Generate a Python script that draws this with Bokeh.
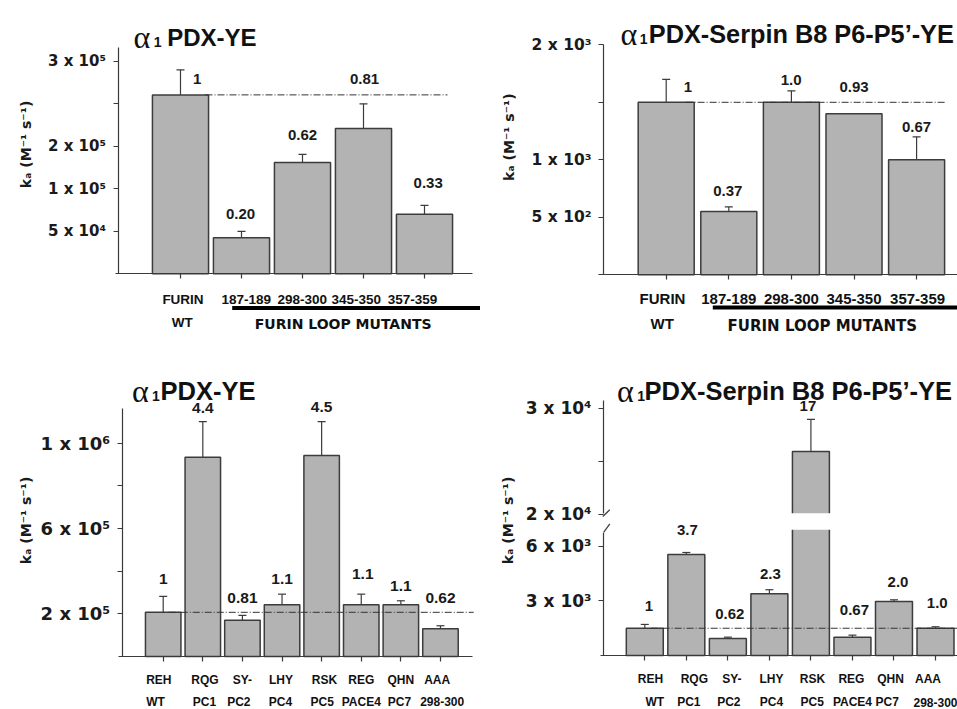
import math
from bokeh.plotting import figure
from bokeh.layouts import gridplot
from bokeh.models import Range1d, FixedTicker, CustomJSTickFormatter, LinearAxis
from bokeh.core.properties import value
from bokeh.embed import file_html
from bokeh.resources import INLINE

# ---------------- data ----------------
# top row: furin loop mutants
top_categories = ["FURIN", "187-189", "298-300", "345-350", "357-359"]
top_sublabels = ["WT", "", "", "", ""]
top_group_label = "FURIN  LOOP  MUTANTS"

tl_title = "PDX-YE"
tl_ka = [2.605e5, 4.25e4, 1.62e5, 2.21e5, 7.0e4]
tl_err = [2.90e5, 5.0e4, 1.81e5, 2.50e5, 8.05e4]
tl_fold = ["1", "0.20", "0.62", "0.81", "0.33"]
tl_ticks = [5e4, 1e5, 2e5, 3e5]
tl_tick_labels = ["5 x 10⁴", "1 x 10⁵", "2 x 10⁵", "3 x 10⁵"]
tl_minor_ticks = [2.5e5]

tr_title = "PDX-Serpin B8 P6-P5’-YE"
tr_ka = [1500, 550, 1500, 1400, 1000]
tr_err = [1700, 590, 1600, None, 1200]
tr_fold = ["1", "0.37", "1.0", "0.93", "0.67"]
tr_ticks = [500, 1000, 2000]
tr_tick_labels = ["5 x 10²", "1 x 10³", "2 x 10³"]
tr_minor_ticks = [1500]

# bottom row: proprotein convertase cleavage-site mutants
bot_categories = ["REH", "RQG", "SY-", "LHY", "RSK", "REG", "QHN", "AAA"]
bot_sublabels = ["WT", "PC1", "PC2", "PC4", "PC5", "PACE4", "PC7", "298-300"]

bl_title = "PDX-YE"
bl_ka = [2.07e5, 9.33e5, 1.70e5, 2.42e5, 9.41e5, 2.42e5, 2.42e5, 1.30e5]
bl_err = [2.82e5, 1.10e6, 1.93e5, 2.92e5, 1.10e6, 2.92e5, 2.61e5, 1.44e5]
bl_fold = ["1", "4.4", "0.81", "1.1", "4.5", "1.1", "1.1", "0.62"]
bl_ticks = [2e5, 6e5, 1e6]
bl_tick_labels = ["2 x 10⁵", "6 x 10⁵", "1 x 10⁶"]
bl_minor_ticks = [4e5, 8e5]

br_title = "PDX-Serpin B8 P6-P5’-YE"
br_ka = [1500, 5560, 936, 3400, 25920, 1010, 2970, 1500]
br_err = [1710, 5670, 1010, 3620, 28940, 1120, 3065, 1580]
br_fold = ["1", "3.7", "0.62", "2.3", "17", "0.67", "2.0", "1.0"]
br_ticks_low = [3000, 6000]
br_tick_labels_low = ["3 x 10³", "6 x 10³"]
br_ticks_high = [20000, 30000]
br_tick_labels_high = ["2 x 10⁴", "3 x 10⁴"]
br_minor_ticks_high = [25000]

Y_LABEL = "kₐ (M⁻¹ s⁻¹)"


# ---------------- broken-axis transforms used by the original figure ----------------
def f_tl(v):
    if v <= 1e5:
        return v / 5e4
    if v <= 2e5:
        return 2 + (v - 1e5) / 1e5
    return 3 + (v - 2e5) / 5e4


def f_br(v):
    if v <= 7000:
        return v / 1000
    return 7.777 + (v - 2e4) * 0.5833 / 1000


def ident(v):
    return v


# ---------------- styling ----------------
BAR_FILL = "#b3b3b3"
BAR_LINE = "#3c3c3c"
AX = "#3a3a3a"
SANS = "Liberation Sans"
WIDE = "DejaVu Sans"
SERIF = "Liberation Serif"


def panel(W, H, ox, oy, cat0_ref, cdx, base_ref, ppu):
    cat0 = cat0_ref - ox
    base = base_ref - oy
    p = figure(width=W, height=H,
               x_range=Range1d(-cat0 / cdx, (W - cat0) / cdx),
               y_range=Range1d((base - H) / ppu, base / ppu),
               output_backend="svg", toolbar_location=None,
               min_border_left=0, min_border_right=0,
               min_border_top=0, min_border_bottom=0)
    p.outline_line_color = None
    p.xgrid.visible = False
    p.ygrid.visible = False
    p.background_fill_color = "white"
    p.border_fill_color = "white"

    def X(rx):
        return (rx - ox - cat0) / cdx

    def Y(ry):
        return (base - (ry - oy)) / ppu

    return p, X, Y


def tick_formatter(pos, labels):
    return CustomJSTickFormatter(args=dict(pos=pos, labels=labels), code="""
        let best = 0, bd = Infinity;
        for (let i = 0; i < pos.length; i++) {
            const d = Math.abs(pos[i] - tick);
            if (d < bd) { bd = d; best = i; }
        }
        return labels[best];
    """)


def style_axis(ax, loc, bounds, ticks, labels=None, minor=(), fsize="15px", standoff=7):
    ax.fixed_location = loc
    ax.bounds = bounds
    ax.ticker = FixedTicker(ticks=list(ticks), minor_ticks=list(minor))
    ax.axis_line_color = AX
    ax.axis_line_width = 1.2
    for pre in ("major", "minor"):
        setattr(ax, pre + "_tick_line_color", AX)
        setattr(ax, pre + "_tick_line_width", 1.2)
        setattr(ax, pre + "_tick_out", 5)
        setattr(ax, pre + "_tick_in", 0)
    if labels is not None:
        ax.formatter = tick_formatter(list(ticks), labels)
        ax.major_label_text_font = WIDE
        ax.major_label_text_font_style = "bold"
        ax.major_label_text_font_size = fsize
        ax.major_label_text_color = "#1a1a1a"
        ax.major_label_standoff = standoff


def draw_bars(p, ka, err, f, width, fold, fold_dx, fold_dy, fold_size="15px"):
    idx = list(range(len(ka)))
    p.vbar(x=idx, top=[f(v) for v in ka], bottom=0, width=width,
           fill_color=BAR_FILL, line_color=BAR_LINE, line_width=1.5)
    ex = [i for i in idx if err[i] is not None]
    p.segment(x0=ex, x1=ex, y0=[f(ka[i]) for i in ex], y1=[f(err[i]) for i in ex],
              line_color=BAR_LINE, line_width=1.2)
    p.scatter(x=ex, y=[f(err[i]) for i in ex], marker="dash", size=8,
              line_color=BAR_LINE, line_width=1.2)
    anchor = [f(err[i]) if err[i] is not None else f(ka[i]) for i in idx]
    p.text(x=idx, y=anchor, text=fold, x_offset=fold_dx, y_offset=fold_dy,
           text_align="center", text_baseline="middle",
           text_font=value(SANS), text_font_style="bold",
           text_font_size=fold_size, text_color="#1a1a1a")


def draw_title(p, X, Y, a_x, one_x, t_x, base_y, text, size):
    p.text(x=[X(a_x)], y=[Y(base_y)], text=["α"], text_font=value(SERIF),
           text_font_size="32px", text_baseline="alphabetic", text_align="left",
           text_color="#111111")
    p.text(x=[X(one_x)], y=[Y(base_y + 5)], text=["1"], text_font=value(SANS),
           text_font_style="bold", text_font_size="14px", text_baseline="alphabetic",
           text_align="left", text_color="#111111")
    p.text(x=[X(t_x)], y=[Y(base_y)], text=[text], text_font=value(SANS),
           text_font_style="bold", text_font_size=size, text_baseline="alphabetic",
           text_align="left", text_color="#111111")


def draw_ylabel(p, X, Y, cx, cy):
    p.text(x=[X(cx)], y=[Y(cy)], text=[Y_LABEL], angle=math.pi / 2,
           text_font=value(WIDE), text_font_style="bold", text_font_size="14px",
           text_align="center", text_baseline="middle", text_color="#1a1a1a")


def draw_catlabels(p, cats, subs, dx1, dy1, dx2, dy2, size):
    idx = list(range(len(cats)))
    p.text(x=idx, y=[0] * len(idx), text=cats, x_offset=dx1, y_offset=dy1,
           text_align="center", text_baseline="middle", text_font=value(SANS),
           text_font_style="bold", text_font_size=size, text_color="#111111")
    sub_idx = [i for i in idx if subs[i]]
    p.text(x=sub_idx, y=[0] * len(sub_idx), text=[subs[i] for i in sub_idx],
           x_offset=[dx2[i] for i in sub_idx], y_offset=dy2,
           text_align="center", text_baseline="middle", text_font=value(SANS),
           text_font_style="bold", text_font_size=size, text_color="#111111")


DASH = dict(line_color="#333333", line_width=1, line_dash="7 2 1 2")

TOP_H, BOT_H = 340, 369
LEFT_W, RIGHT_W = 480, 477

# ================= top-left =================
p1, X1, Y1 = panel(LEFT_W, TOP_H, 0, 0, 180, 61, 273.3, 42.5)
style_axis(p1.yaxis[0], X1(117.5), (0, 5.33), [f_tl(t) for t in tl_ticks], tl_tick_labels,
           [f_tl(t) for t in tl_minor_ticks], "15px")
style_axis(p1.xaxis[0], 0, (X1(115), X1(472)), [], None, range(len(top_categories)))
draw_bars(p1, tl_ka, tl_err, f_tl, 0.92, tl_fold,
          [16.7, -1, 0, 1, 3.7], [9, -17.7, -19, -24.7, -22.3])
p1.line(x=[0.41, 4.377], y=[f_tl(tl_ka[0])] * 2, **DASH)
draw_title(p1, X1, Y1, 133, 153.3, 166.7, 36.7, tl_title, "24px")
draw_ylabel(p1, X1, Y1, 25, 144)
draw_catlabels(p1, top_categories, top_sublabels, [2.5, 4.8, -0.3, -7.2, -12], 25.7,
               [1.7, 0, 0, 0, 0], 48.7, "13.5px")
p1.line(x=[X1(231.7), X1(490)], y=[Y1(307.5)] * 2, line_color="black", line_width=4)
p1.text(x=[X1(347.5)], y=[0], y_offset=49.7, text=[top_group_label], text_align="center",
        text_baseline="middle", text_font=value(WIDE), text_font_style="bold",
        text_font_size="14px", text_color="#111111")

# ================= top-right =================
p2, X2, Y2 = panel(RIGHT_W, TOP_H, 480, 0, 665.7, 62.6, 274.3, 0.115)
style_axis(p2.yaxis[0], X2(603), (0, 2000), tr_ticks, tr_tick_labels, tr_minor_ticks, "15.5px")
style_axis(p2.xaxis[0], 0, (X2(598), X2(960)), [], None, range(len(top_categories)))
draw_bars(p2, tr_ka, tr_err, ident, 0.895, tr_fold,
          [21.6, -1, -0.3, 0, 0], [7.7, -15.6, -11.3, -26.6, -9.6])
p2.line(x=[0.31, 4.46], y=[tr_ka[0]] * 2, **DASH)
draw_title(p2, X2, Y2, 620, 639.3, 648.3, 33.3, tr_title, "25.3px")
draw_ylabel(p2, X2, Y2, 508, 136.7)
draw_catlabels(p2, top_categories, top_sublabels, [-3.7, 0, 0, 0, 1], 24,
               [-4, 0, 0, 0, 0], 48.2, "15px")
p2.line(x=[X2(712.3), X2(970)], y=[Y2(307)] * 2, line_color="black", line_width=4)
p2.text(x=[X2(827)], y=[0], y_offset=50.7, text=[top_group_label], text_align="center",
        text_baseline="middle", text_font=value(WIDE), text_font_style="bold",
        text_font_size="15px", text_color="#111111")

# ================= bottom-left =================
p3, X3, Y3 = panel(LEFT_W, BOT_H, 0, 340, 162.7, 39.61, 656, 42.7 / 2e5)
style_axis(p3.yaxis[0], X3(121.7), (0, 1.16e6), bl_ticks, bl_tick_labels, bl_minor_ticks, "18px")
style_axis(p3.xaxis[0], 0, (X3(118), X3(471.7)), [], None, range(len(bot_categories)))
draw_bars(p3, bl_ka, bl_err, ident, 0.896, bl_fold,
          [0, 0, 0, 0, 0, 1.5, 0, 0], [-17.4, -14, -17, -15.4, -14.7, -20.4, -14.3, -27.6],
          "15.5px")
p3.line(x=[0.14, 7.84], y=[bl_ka[0]] * 2, **DASH)
draw_title(p3, X3, Y3, 131.5, 151.5, 160, 390, bl_title, "25.5px")
draw_ylabel(p3, X3, Y3, 25, 520)
draw_catlabels(p3, bot_categories, bot_sublabels,
               [-4.4, 2.2, 0, -1, 2.9, 0, 0, -3.3], 23.2,
               [-7.7, 1.7, -3.6, -1.5, 0.6, 0, -1.4, 1.7], 45.3, "12px")

# ================= bottom-right (broken axis) =================
p4, X4, Y4 = panel(RIGHT_W, BOT_H, 480, 340, 644.3, 41.53, 655, 18.17)
style_axis(p4.yaxis[0], X4(603), (0, 6.79), [f_br(t) for t in br_ticks_low],
           br_tick_labels_low, (), "17px")
upper = LinearAxis()
p4.add_layout(upper, "left")
style_axis(upper, X4(603), (7.80, 14.03), [f_br(t) for t in br_ticks_high],
           br_tick_labels_high, [f_br(t) for t in br_minor_ticks_high], "17px")
style_axis(p4.xaxis[0], 0, (X4(600), X4(960)), [], None, range(len(bot_categories)))
draw_bars(p4, br_ka, br_err, f_br, 0.89, br_fold,
          [4, 1, 2, 1, -3, 2, 4, 1.7], [-18, -22, -23.4, -16, -13, -24.7, -18.3, -23.6])
# white band where the axis is broken
p4.quad(left=[4 - 0.6], right=[4 + 0.6], bottom=[6.92], top=[7.83],
        fill_color="white", line_color=None)
p4.segment(x0=[X4(602.3), X4(603.3)], y0=[Y4(516), Y4(531.7)],
           x1=[X4(609.3), X4(609.3)], y1=[Y4(509.3), Y4(523.3)],
           line_color=AX, line_width=1.2)
p4.line(x=[0.14, 7.6], y=[f_br(br_ka[0])] * 2, **DASH)
draw_title(p4, X4, Y4, 616.5, 636.7, 644, 390, br_title, "25.5px")
draw_ylabel(p4, X4, Y4, 507, 520)
draw_catlabels(p4, bot_categories, bot_sublabels,
               [5.7, 8, 4, 2, 1.6, -1, -3.5, -7.5], 23.3,
               [10, 2.5, 1, 2, 1.3, 0, -6.8, 0], 46.7, "12px")

grid = gridplot([[p1, p2], [p3, p4]], toolbar_location=None)

open("out.html", "w").write(file_html(grid, INLINE))
